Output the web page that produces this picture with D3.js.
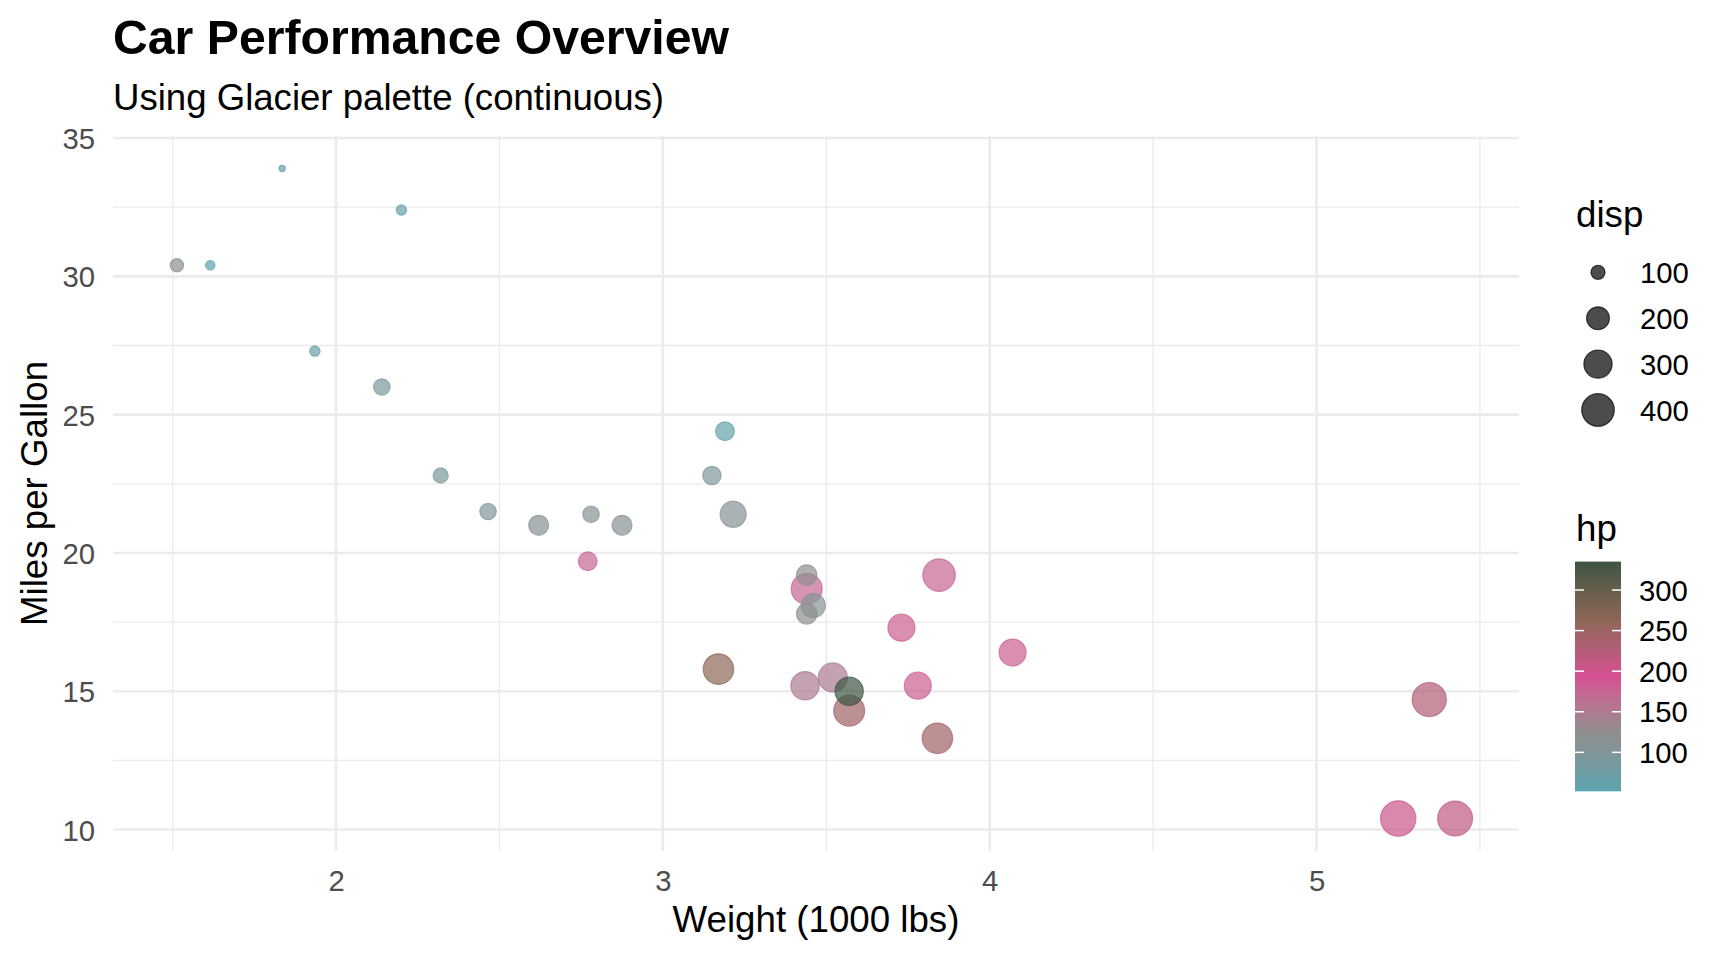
<!DOCTYPE html>
<html>
<head>
<meta charset="utf-8">
<script src="https://cdn.jsdelivr.net/npm/d3@7"></script>
<style>
  body { margin: 0; background: #fff; }
  svg { display: block; font-family: "Liberation Sans", Arial, sans-serif; }
</style>
</head>
<body>
<div id="my_dataviz"></div>
<script>
// mtcars values
var cars = ["Mazda RX4", "Mazda RX4 Wag", "Datsun 710", "Hornet 4 Drive", "Hornet Sportabout",
  "Valiant", "Duster 360", "Merc 240D", "Merc 230", "Merc 280", "Merc 280C", "Merc 450SE",
  "Merc 450SL", "Merc 450SLC", "Cadillac Fleetwood", "Lincoln Continental", "Chrysler Imperial",
  "Fiat 128", "Honda Civic", "Toyota Corolla", "Toyota Corona", "Dodge Challenger", "AMC Javelin",
  "Camaro Z28", "Pontiac Firebird", "Fiat X1-9", "Porsche 914-2", "Lotus Europa", "Ford Pantera L",
  "Ferrari Dino", "Maserati Bora", "Volvo 142E"];
var wt = [2.620, 2.875, 2.320, 3.215, 3.440, 3.460, 3.570, 3.190, 3.150, 3.440, 3.440, 4.070,
  3.730, 3.780, 5.250, 5.424, 5.345, 2.200, 1.615, 1.835, 2.465, 3.520, 3.435, 3.840, 3.845,
  1.935, 2.140, 1.513, 3.170, 2.770, 3.570, 2.780];
var mpg = [21.0, 21.0, 22.8, 21.4, 18.7, 18.1, 14.3, 24.4, 22.8, 19.2, 17.8, 16.4, 17.3, 15.2,
  10.4, 10.4, 14.7, 32.4, 30.4, 33.9, 21.5, 15.5, 15.2, 13.3, 19.2, 27.3, 26.0, 30.4, 15.8,
  19.7, 15.0, 21.4];
var disp = [160, 160, 108, 258, 360, 225, 360, 146.7, 140.8, 167.6, 167.6, 275.8, 275.8, 275.8,
  472, 460, 440, 78.7, 75.7, 71.1, 120.1, 318, 304, 350, 400, 79, 120.3, 95.1, 351, 145, 301, 121];
var hp = [110, 110, 93, 110, 175, 105, 245, 62, 95, 123, 123, 180, 180, 180, 205, 215, 230,
  66, 52, 65, 97, 150, 150, 245, 175, 66, 91, 113, 264, 175, 335, 109];

var xTicks = [2, 3, 4, 5];
var yTicks = [10, 15, 20, 25, 30, 35];
var xMinor = [1.5, 2.5, 3.5, 4.5, 5.5];
var yMinor = [12.5, 17.5, 22.5, 27.5, 32.5];
var dispBreaks = [100, 200, 300, 400];
var hpBreaks = [100, 150, 200, 250, 300];
var glacier = ["#5aa4ae", "#8e8e90", "#d64f92", "#8d6657", "#3c5542"];

var data = cars.map(function(d, i) {
  return {name: d, wt: wt[i], mpg: mpg[i], disp: disp[i], hp: hp[i]};
});

var W = 1728, H = 960;
var panel = {left: 113, right: 1519, top: 136, bottom: 851};

var svg = d3.select("#my_dataviz")
  .append("svg")
    .attr("width", W)
    .attr("height", H);

// scales, with ggplot style 5% expansion
function expand(ext) {
  var pad = (ext[1] - ext[0]) * 0.05;
  return [ext[0] - pad, ext[1] + pad];
}
var x = d3.scaleLinear()
  .domain(expand(d3.extent(wt)))
  .range([panel.left, panel.right]);
var y = d3.scaleLinear()
  .domain(expand(d3.extent(mpg)))
  .range([panel.bottom, panel.top]);

var dispExt = d3.extent(disp);
var sizeT = d3.scaleLinear().domain(dispExt).range([0, 1]);
var diam = d3.scaleLinear().domain([0, 1]).range([7.5, 36.5]);
function radius(v) { return diam(Math.sqrt(Math.max(0, sizeT(v)))) / 2 - 0.6; }

var hpExt = d3.extent(hp);
var hpStops = d3.range(5).map(function(i) { return hpExt[0] + i * (hpExt[1] - hpExt[0]) / 4; });
var color = d3.scaleLinear()
  .domain(hpStops)
  .range(glacier)
  .interpolate(d3.interpolateLab);

// grid
var grid = svg.append("g");
grid.selectAll(".xminor").data(xMinor).enter().append("line")
  .attr("x1", function(d) { return x(d); }).attr("x2", function(d) { return x(d); })
  .attr("y1", panel.top).attr("y2", panel.bottom)
  .attr("stroke", "#ebebeb").attr("stroke-width", 1.3);
grid.selectAll(".yminor").data(yMinor).enter().append("line")
  .attr("y1", function(d) { return y(d); }).attr("y2", function(d) { return y(d); })
  .attr("x1", panel.left).attr("x2", panel.right)
  .attr("stroke", "#ebebeb").attr("stroke-width", 1.3);
grid.selectAll(".xmajor").data(xTicks).enter().append("line")
  .attr("x1", function(d) { return x(d); }).attr("x2", function(d) { return x(d); })
  .attr("y1", panel.top).attr("y2", panel.bottom)
  .attr("stroke", "#ebebeb").attr("stroke-width", 2.6);
grid.selectAll(".ymajor").data(yTicks).enter().append("line")
  .attr("y1", function(d) { return y(d); }).attr("y2", function(d) { return y(d); })
  .attr("x1", panel.left).attr("x2", panel.right)
  .attr("stroke", "#ebebeb").attr("stroke-width", 2.6);

// axes (labels only, like theme_minimal)
var xAxis = svg.append("g")
  .attr("transform", "translate(0," + panel.bottom + ")")
  .call(d3.axisBottom(x).tickValues(xTicks).tickSize(0).tickPadding(0).tickFormat(d3.format("d")));
xAxis.select(".domain").remove();
xAxis.selectAll("text")
  .attr("y", 40).attr("dy", 0)
  .style("font-size", "29.3px").style("fill", "#4d4d4d")
  .style("font-family", "Liberation Sans, Arial, sans-serif");

var yAxis = svg.append("g")
  .attr("transform", "translate(" + panel.left + ",0)")
  .call(d3.axisLeft(y).tickValues(yTicks).tickSize(0).tickPadding(0).tickFormat(d3.format("d")));
yAxis.select(".domain").remove();
yAxis.selectAll("text")
  .attr("x", -18).attr("dy", "0.36em")
  .style("font-size", "29.3px").style("fill", "#4d4d4d")
  .style("font-family", "Liberation Sans, Arial, sans-serif");

// points
svg.append("g")
  .selectAll("circle")
  .data(data)
  .enter()
  .append("circle")
    .attr("cx", function(d) { return x(d.wt); })
    .attr("cy", function(d) { return y(d.mpg); })
    .attr("r", function(d) { return radius(d.disp); })
    .attr("fill", function(d) { return color(d.hp); })
    .attr("fill-opacity", 0.7)
    .attr("stroke", function(d) { return color(d.hp); })
    .attr("stroke-opacity", 0.7)
    .attr("stroke-width", 1.2);

// titles
svg.append("text")
  .attr("x", 113).attr("y", 54)
  .style("font-size", "48.2px").style("font-weight", "bold")
  .text("Car Performance Overview");
svg.append("text")
  .attr("x", 113).attr("y", 110)
  .style("font-size", "36.6px")
  .text("Using Glacier palette (continuous)");
svg.append("text")
  .attr("text-anchor", "middle")
  .attr("x", (panel.left + panel.right) / 2).attr("y", 932)
  .style("font-size", "36.7px")
  .text("Weight (1000 lbs)");
svg.append("text")
  .attr("text-anchor", "middle")
  .attr("transform", "translate(47," + ((panel.top + panel.bottom) / 2) + ") rotate(-90)")
  .style("font-size", "36.7px")
  .text("Miles per Gallon");

// size legend
var lg = svg.append("g");
lg.append("text")
  .attr("x", 1576).attr("y", 227)
  .style("font-size", "36.7px")
  .text("disp");
lg.selectAll(".sizekey").data(dispBreaks).enter().append("circle")
  .attr("cx", 1598)
  .attr("cy", function(d, i) { return 272.3 + i * 45.9; })
  .attr("r", function(d) { return radius(d); })
  .attr("fill", "#000").attr("fill-opacity", 0.7)
  .attr("stroke", "#000").attr("stroke-opacity", 0.7)
  .attr("stroke-width", 1.2);
lg.selectAll(".sizelab").data(dispBreaks).enter().append("text")
  .attr("x", 1640)
  .attr("y", function(d, i) { return 272.3 + i * 45.9; })
  .attr("dy", "0.36em")
  .style("font-size", "29.3px")
  .text(function(d) { return d; });

// colour bar legend
var barTop = 561.6, barBottom = 791.3, barX = 1575, barW = 46;
var cb = d3.scaleLinear().domain(hpExt).range([barBottom, barTop]);
var defs = svg.append("defs");
var grad = defs.append("linearGradient")
  .attr("id", "hpgrad")
  .attr("x1", 0).attr("y1", 1).attr("x2", 0).attr("y2", 0);
grad.selectAll("stop")
  .data(d3.range(0, 1.0001, 0.02))
  .enter().append("stop")
    .attr("offset", function(d) { return d; })
    .attr("stop-color", function(d) { return color(hpExt[0] + d * (hpExt[1] - hpExt[0])); });

lg.append("text")
  .attr("x", 1576).attr("y", 541)
  .style("font-size", "36.7px")
  .text("hp");
lg.append("rect")
  .attr("x", barX).attr("y", barTop)
  .attr("width", barW).attr("height", barBottom - barTop)
  .attr("fill", "url(#hpgrad)");
lg.selectAll(".tickl").data(hpBreaks).enter().append("line")
  .attr("x1", barX).attr("x2", barX + 9)
  .attr("y1", function(d) { return cb(d); }).attr("y2", function(d) { return cb(d); })
  .attr("stroke", "#fff").attr("stroke-width", 1.5);
lg.selectAll(".tickr").data(hpBreaks).enter().append("line")
  .attr("x1", barX + barW - 9).attr("x2", barX + barW)
  .attr("y1", function(d) { return cb(d); }).attr("y2", function(d) { return cb(d); })
  .attr("stroke", "#fff").attr("stroke-width", 1.5);
lg.selectAll(".hplab").data(hpBreaks).enter().append("text")
  .attr("x", 1639)
  .attr("y", function(d) { return cb(d); })
  .attr("dy", "0.36em")
  .style("font-size", "29.3px")
  .text(function(d) { return d; });
</script>
</body>
</html>
